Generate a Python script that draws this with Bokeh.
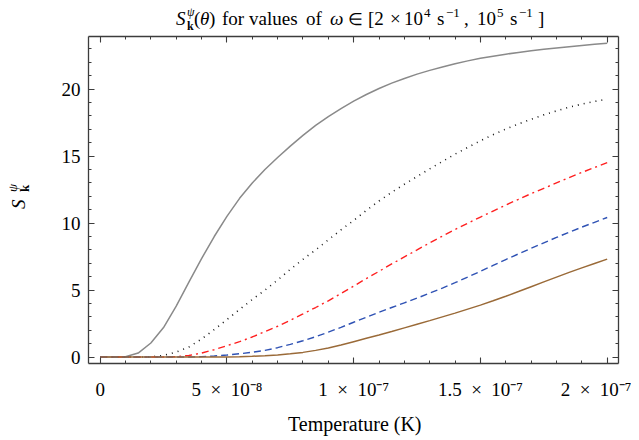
from bokeh.plotting import figure
from bokeh.models import FixedTicker, LinearAxis, Range1d, Div
from bokeh.layouts import column, row
from bokeh.embed import file_html
from bokeh.resources import INLINE

# ---- data ----
temperature = [0.0, 0.5e-8, 1.0e-8, 1.5e-8, 2.0e-8, 2.5e-8, 3.0e-8, 3.5e-8, 4.0e-8, 4.5e-8,
               5.0e-8, 5.5e-8, 6.0e-8, 6.5e-8, 7.0e-8, 7.5e-8, 8.0e-8, 8.5e-8, 9.0e-8, 9.5e-8,
               1.0e-7, 1.05e-7, 1.1e-7, 1.15e-7, 1.2e-7, 1.25e-7, 1.3e-7, 1.35e-7, 1.4e-7, 1.45e-7,
               1.5e-7, 1.55e-7, 1.6e-7, 1.65e-7, 1.7e-7, 1.75e-7, 1.8e-7, 1.85e-7, 1.9e-7, 1.95e-7,
               2.0e-7]

s_gray = [0.0, 0.0, 0.02, 0.3, 1.05, 2.2, 3.8, 5.6, 7.35, 9.0,
          10.5, 11.85, 13.0, 14.0, 14.9, 15.75, 16.55, 17.3, 17.95, 18.55,
          19.1, 19.6, 20.05, 20.45, 20.8, 21.12, 21.4, 21.66, 21.9, 22.11,
          22.3, 22.46, 22.61, 22.74, 22.86, 22.97, 23.07, 23.17, 23.26, 23.35,
          23.43]

s_dotted = [0.0, 0.0, 0.0, 0.0, 0.02, 0.12, 0.37, 0.75, 1.35, 2.05,
            2.8, 3.55, 4.3, 5.0, 5.75, 6.55, 7.3, 8.0, 8.75, 9.5,
            10.2, 10.95, 11.65, 12.3, 12.9, 13.48, 14.05, 14.6, 15.15, 15.65,
            16.15, 16.6, 17.02, 17.4, 17.75, 18.08, 18.38, 18.65, 18.88, 19.08,
            19.25]

s_red = [0.0, 0.0, 0.0, 0.0, 0.0, 0.0, 0.03, 0.12, 0.3, 0.55,
         0.85, 1.15, 1.5, 1.9, 2.3, 2.75, 3.22, 3.7, 4.2, 4.74,
         5.3, 5.86, 6.4, 6.95, 7.48, 8.0, 8.53, 9.03, 9.52, 9.99,
         10.45, 10.9, 11.35, 11.78, 12.2, 12.6, 13.0, 13.4, 13.78, 14.15,
         14.52]

s_blue = [0.0, 0.0, 0.0, 0.0, 0.0, 0.0, 0.0, 0.0, 0.03, 0.08,
          0.15, 0.25, 0.36, 0.5, 0.7, 0.95, 1.22, 1.52, 1.86, 2.22,
          2.6, 2.97, 3.35, 3.7, 4.05, 4.4, 4.77, 5.15, 5.55, 5.97,
          6.4, 6.84, 7.28, 7.7, 8.12, 8.53, 8.93, 9.32, 9.7, 10.06,
          10.42]

s_brown = [0.0, 0.0, 0.0, 0.0, 0.0, 0.0, 0.0, 0.0, 0.0, 0.0,
           0.01, 0.03, 0.06, 0.1, 0.16, 0.24, 0.35, 0.5, 0.67, 0.9,
           1.15, 1.4, 1.65, 1.91, 2.18, 2.45, 2.72, 3.0, 3.28, 3.58,
           3.88, 4.2, 4.54, 4.89, 5.25, 5.61, 5.97, 6.32, 6.66, 6.99,
           7.31]

x_ticks = [0.0, 5e-8, 1e-7, 1.5e-7, 2e-7]
x_tick_labels = ["0", "5\u2002×\u200210⁻⁸", "1\u2002×\u200210⁻⁷", "1.5\u2002×\u200210⁻⁷", "2\u2002×\u200210⁻⁷"]
x_minor = [i * 1e-8 for i in range(0, 21)]
y_ticks = [0, 5, 10, 15, 20]
y_tick_labels = ["0", "5", "10", "15", "20"]
y_minor = list(range(0, 24))

FONT = "Liberation Serif"
AXC = "#3c3c3c"

# ---- layout geometry (pixels) ----
TITLE_H = 30
YLAB_W = 40
XLAB_H = 36
FRAME_W, FRAME_H = 530, 327
B_LEFT, B_RIGHT, B_TOP, B_BOTTOM = 48, 13, 6, 40

p = figure(frame_width=FRAME_W, frame_height=FRAME_H,
           x_range=Range1d(-0.046e-7, 2.0446e-7), y_range=Range1d(-0.48, 23.93),
           output_backend="svg", toolbar_location=None,
           min_border_left=B_LEFT, min_border_right=B_RIGHT,
           min_border_top=B_TOP, min_border_bottom=B_BOTTOM, margin=0)
p.grid.visible = False
p.outline_line_color = None
p.background_fill_color = "white"
p.border_fill_color = "white"


def style_axis(ax, ticks, minor, labels, show):
    ax.ticker = FixedTicker(ticks=ticks, minor_ticks=minor)
    ax.axis_line_color = AXC
    ax.axis_line_width = 1.3
    ax.major_tick_line_color = AXC
    ax.minor_tick_line_color = AXC
    ax.major_tick_line_width = 1.1
    ax.minor_tick_line_width = 1.0
    ax.major_tick_in = 6
    ax.major_tick_out = 0
    ax.minor_tick_in = 3
    ax.minor_tick_out = 0
    ax.major_label_text_font = FONT
    ax.major_label_text_font_size = "19px"
    ax.major_label_text_color = "black"
    if show:
        ax.major_label_overrides = {t: l for t, l in zip(ticks, labels)}
    else:
        ax.major_label_overrides = {t: "" for t in ticks}
        ax.major_label_standoff = 0


style_axis(p.xaxis[0], x_ticks, x_minor, x_tick_labels, True)
p.xaxis[0].major_label_standoff = 15
style_axis(p.yaxis[0], y_ticks, y_minor, y_tick_labels, True)
p.yaxis[0].major_label_standoff = 8

top = LinearAxis()
style_axis(top, x_ticks, x_minor, x_tick_labels, False)
p.add_layout(top, "above")
right = LinearAxis()
style_axis(right, y_ticks, y_minor, y_tick_labels, False)
p.add_layout(right, "right")

# ---- curves ----
p.line(temperature, s_gray, line_color="#8a8a8a", line_width=1.5)
p.line(temperature, s_dotted, line_color="#1a1a1a", line_width=1.6, line_dash="1 5")
p.line(temperature, s_red, line_color="#ff2020", line_width=1.4, line_dash="7 4 2 4")
p.line(temperature, s_blue, line_color="#2f52b4", line_width=1.4, line_dash="7 4")
p.line(temperature, s_brown, line_color="#9a6a38", line_width=1.5)


# ---- title and axis labels as HTML text pieces ----
def span(text, x, baseline, size, style="normal", rotate=False):
    css = ["position:absolute", f"font-size:{size}px", f"line-height:{size}px", "white-space:nowrap",
           "margin:0", "padding:0", "color:black"]
    if style == "italic":
        css.append("font-style:italic")
    elif style == "bold":
        css.append("font-weight:bold")
    asc = 0.8375 * size
    if rotate:
        css += [f"left:{x - asc:.1f}px", f"top:{baseline:.1f}px",
                "transform-origin:0 0", "transform:rotate(-90deg)"]
    else:
        css += [f"left:{x:.1f}px", f"top:{baseline - asc:.1f}px"]
    return f'<span style="{";".join(css)}">{text}</span>'


def box(inner, w, h):
    return (f'<div style="position:relative;width:{w}px;height:{h}px;overflow:visible;'
            f'font-family:\'{FONT}\',serif;margin:0;padding:0">{inner}</div>')


TB = 25
title_pieces = [
    ("S", 176, 0, 19, "italic"), ("ψ", 187, 9, 12, "italic"), ("k", 187, -5, 12, "bold"),
    ("(", 194, 0, 19, "normal"), ("θ", 200, 0, 19, "italic"), (")", 209, 0, 19, "normal"),
    ("for", 222, 0, 19, "normal"), ("values", 249, 0, 19, "normal"), ("of", 306, 0, 19, "normal"),
    ("ω", 330, 0, 19, "italic"),
    ("∈", 348, 0, 17, "normal"), ("[2", 368, 0, 19, "normal"), ("×", 390, 0, 19, "normal"),
    ("10", 404, 0, 19, "normal"), ("4", 424, 8, 13, "normal"), ("s", 437, 0, 19, "normal"),
    ("−1", 446, 8, 13, "normal"), (",", 464, 0, 19, "normal"), ("10", 477, 0, 19, "normal"),
    ("5", 497, 8, 13, "normal"), ("s", 510, 0, 19, "normal"), ("−1", 519, 8, 13, "normal"),
    ("]", 538, 0, 19, "normal"),
]
total_w = YLAB_W + B_LEFT + FRAME_W + B_RIGHT
fig_h = B_TOP + FRAME_H + B_BOTTOM

title_html = "".join(span(t, x, TB - dy, sz, st) for t, x, dy, sz, st in title_pieces)
title_div = Div(text=box(title_html, total_w, TITLE_H), width=total_w, height=TITLE_H, margin=0)

ylab_pieces = [("S", 25, 209, 19, "italic"), ("ψ", 17, 192, 13, "italic"), ("k", 29, 192, 13, "bold")]
ylab_html = "".join(span(t, bx, sy - TITLE_H, sz, st, rotate=True) for t, bx, sy, sz, st in ylab_pieces)
ylab_div = Div(text=box(ylab_html, YLAB_W, fig_h), width=YLAB_W, height=fig_h, margin=0)

xlab_top = TITLE_H + fig_h
xlab_html = span("Temperature (K)", 288, 431 - xlab_top, 20)
xlab_div = Div(text=box(xlab_html, total_w, XLAB_H), width=total_w, height=XLAB_H, margin=0)

layout = column(title_div, row(ylab_div, p, spacing=0, margin=0), xlab_div, spacing=0, margin=0)

open("out.html", "w").write(file_html(layout, INLINE))
